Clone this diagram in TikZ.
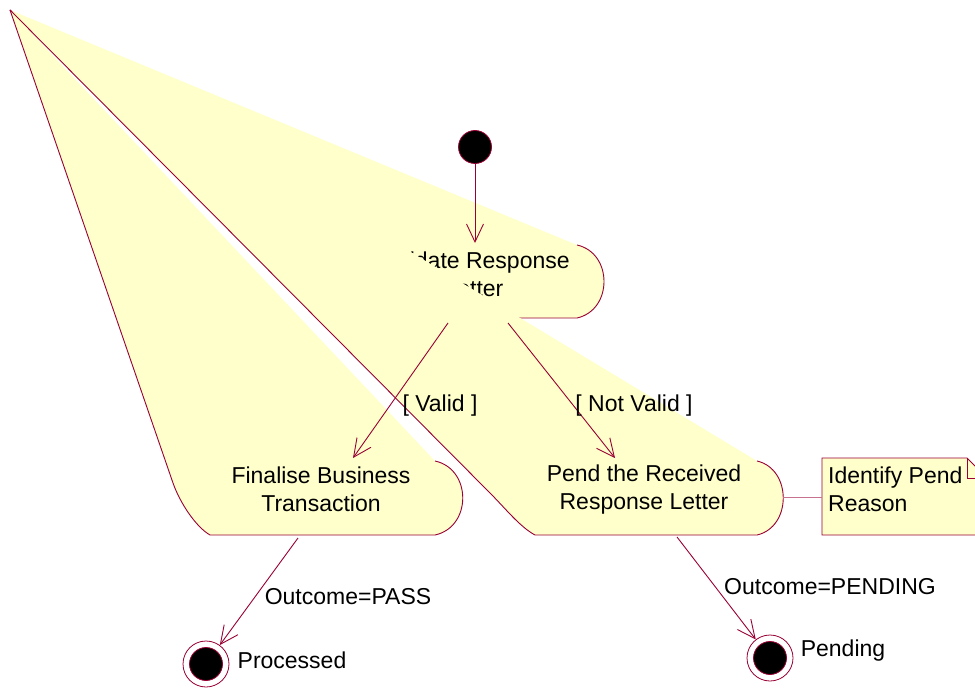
\documentclass[tikz,border=0pt]{standalone}
\usepackage{fontspec}
\setmainfont{Liberation Sans}
\usetikzlibrary{arrows.meta}
\definecolor{rosered}{RGB}{153,0,51}
\definecolor{roseyellow}{RGB}{255,255,204}
\begin{document}
\begin{tikzpicture}[x=1pt,y=-1pt,
  outline/.style={draw=rosered, line width=0.9pt},
  trans/.style={outline, -{Straight Barb[length=18pt,width=17pt,line width=0.9pt]}},
  anchorline/.style={draw=rosered!55, line width=0.7pt},
  txt/.style={font=\fontsize{23}{28}\selectfont, inner sep=0pt, align=center},
  activityfill/.style={fill=roseyellow},
  startstate/.style={circle, fill=black, draw=rosered, line width=0.8pt, minimum size=33pt, inner sep=0pt},
  endring/.style={circle, fill=white, draw=rosered, line width=0.8pt, minimum size=46pt, inner sep=0pt},
  enddot/.style={circle, fill=black, draw=rosered, line width=0.8pt, minimum size=33pt, inner sep=0pt}]
\useasboundingbox (0,0) rectangle (975,690);
\begin{scope}
\clip (0,0) rectangle (975,690);

% Validate Response Letter
\fill[activityfill] (10,10) -- (577,245) .. controls (613,253) and (613,310) .. (577,318)
  -- (385,318) .. controls (370,310) and (360,302) .. (352,292) -- cycle;
\draw[outline] (577,245) .. controls (613,253) and (613,310) .. (577,318)
  -- (385,318) .. controls (370,310) and (360,302) .. (352,292) -- (10,10);
\node[txt] (validate) at (474,274) {Validate Response\\Letter};

% Finalise Business Transaction
\fill[activityfill] (10,10) -- (435,461) .. controls (472,469) and (472,527) .. (435,535)
  -- (210,535) .. controls (196,527) and (180,503) .. (173,483) -- cycle;
\draw[outline] (435,461) .. controls (472,469) and (472,527) .. (435,535)
  -- (210,535) .. controls (196,527) and (180,503) .. (173,483) -- (10,10);
\node[txt] (finalise) at (321,489) {Finalise Business\\Transaction};

% Pend the Received Response Letter
\fill[activityfill] (10,10) -- (757,461) .. controls (792,469) and (792,527) .. (757,535)
  -- (535,535) .. controls (520,527) and (505,508) .. (490,493) -- cycle;
\draw[outline] (757,461) .. controls (792,469) and (792,527) .. (757,535)
  -- (535,535) .. controls (520,527) and (505,508) .. (490,493) -- (10,10);
\node[txt] (pend) at (644,490) {Pend the Received\\Response Letter};

% note
\draw[outline, fill=roseyellow] (822,458) -- (967,458) -- (987,478) -- (987,535) -- (822,535) -- cycle;
\draw[outline] (967,458) -- (967,478) -- (987,478);
\node[txt, align=left, anchor=west] (note) at (828,489) {Identify Pend\\Reason};
\coordinate (pendright) at (783,497);
\coordinate (noteleft) at (822,497);
\draw[anchorline] (pendright) -- (noteleft);
\end{scope}

% states
\node[startstate] (start) at (475,147) {};
\node[endring] (processed) at (206,664) {};
\node[enddot] at (processed) {};
\node[endring] (pending) at (770,658) {};
\node[enddot] at (pending) {};

% connector end points on the activity outlines
\coordinate (valtop) at (475,243);
\coordinate (valout1) at (448,323);
\coordinate (valout2) at (508,323);
\coordinate (fintop) at (353,458);
\coordinate (pendtop) at (615,458);
\coordinate (finbot) at (298,538);
\coordinate (pendbot) at (677,537);

\draw[trans] (start) -- (valtop);
\draw[trans] (valout1) -- (fintop);
\draw[trans] (valout2) -- (pendtop);
\draw[trans] (finbot) -- (processed);
\draw[trans] (pendbot) -- (pending);

% labels
\node[txt] (lvalid) at (440,406) {[ Valid ]};
\node[txt] (lnotvalid) at (634,406) {[ Not Valid ]};
\node[txt] (lpass) at (348,597) {Outcome=PASS};
\node[txt] (lpending) at (830,587) {Outcome=PENDING};
\node[txt] (lprocessed) at (292,660) {Processed};
\node[txt] (lpend) at (843,651) {Pending};
\end{tikzpicture}
\end{document}
